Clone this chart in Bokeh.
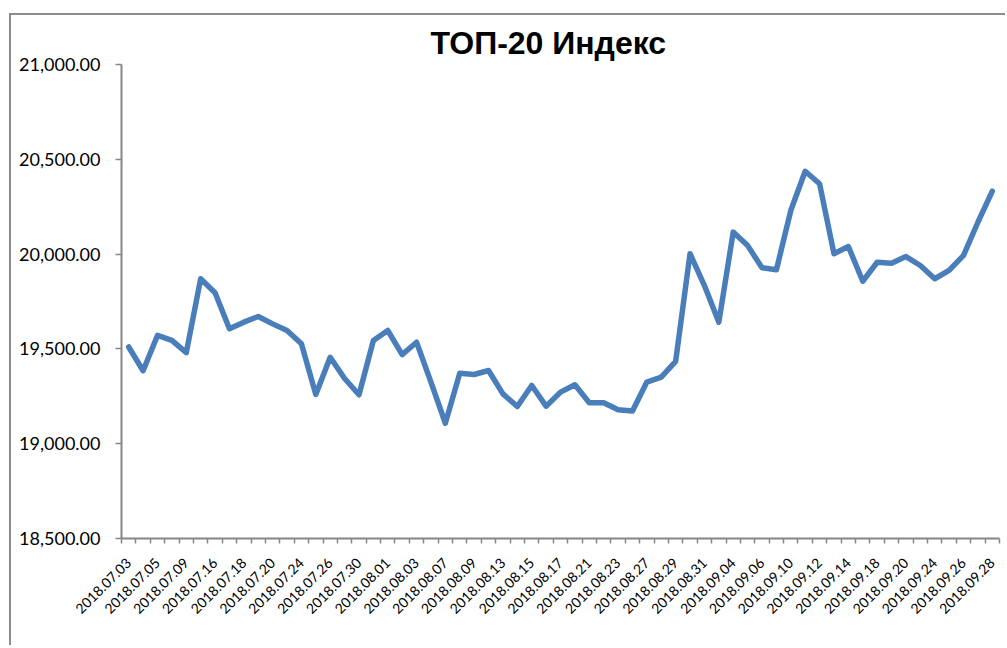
import math
from bokeh.plotting import figure
from bokeh.models import Range1d, FixedTicker, NumeralTickFormatter, ColumnDataSource
from bokeh.embed import file_html
from bokeh.resources import INLINE

title_text = "ТОП-20 Индекс"

dates = [
    "2018.07.03", "2018.07.04", "2018.07.05", "2018.07.06", "2018.07.09", "2018.07.10",
    "2018.07.16", "2018.07.17", "2018.07.18", "2018.07.19", "2018.07.20", "2018.07.23",
    "2018.07.24", "2018.07.25", "2018.07.26", "2018.07.27", "2018.07.30", "2018.07.31",
    "2018.08.01", "2018.08.02", "2018.08.03", "2018.08.06", "2018.08.07", "2018.08.08",
    "2018.08.09", "2018.08.10", "2018.08.13", "2018.08.14", "2018.08.15", "2018.08.16",
    "2018.08.17", "2018.08.20", "2018.08.21", "2018.08.22", "2018.08.23", "2018.08.24",
    "2018.08.27", "2018.08.28", "2018.08.29", "2018.08.30", "2018.08.31",
    "2018.09.03", "2018.09.04", "2018.09.05", "2018.09.06", "2018.09.07", "2018.09.10",
    "2018.09.11", "2018.09.12", "2018.09.13", "2018.09.14", "2018.09.17", "2018.09.18",
    "2018.09.19", "2018.09.20", "2018.09.21", "2018.09.24", "2018.09.25", "2018.09.26",
    "2018.09.27", "2018.09.28",
]

index_values = [
    19510, 19385, 19571, 19545, 19480, 19870, 19796, 19606, 19641, 19671,
    19632, 19597, 19527, 19260, 19456, 19344, 19258, 19544, 19597, 19470,
    19535, 19325, 19108, 19372, 19365, 19386, 19263, 19196, 19307, 19198,
    19272, 19311, 19216, 19216, 19179, 19172, 19325, 19351, 19434, 20002,
    19834, 19641, 20116, 20045, 19928, 19917, 20230, 20437, 20371, 20002,
    20040, 19857, 19957, 19952, 19987, 19940, 19870, 19914, 19993, 20168,
    20332,
]

y_ticks = [18500, 19000, 19500, 20000, 20500, 21000]

n = len(dates)
positions = list(range(n))
src = ColumnDataSource(dict(x=positions, y=index_values, d=dates))

p = figure(
    width=996, height=632,
    output_backend="svg", toolbar_location=None,
    x_range=Range1d(-0.5, n - 0.5),
    y_range=Range1d(y_ticks[0], y_ticks[-1]),
    min_border_left=110, min_border_right=8,
    min_border_top=49, min_border_bottom=109,
    margin=(13, 0, 0, 9),
)
p.styles = {"border-left": "2px solid #8c8c8c", "border-top": "2px solid #8c8c8c"}

p.line("x", "y", source=src, line_color="#4A7EBB", line_width=5.5,
       line_join="round", line_cap="round")

# Title
p.title.text = title_text
p.title.text_font = "Liberation Sans"
p.title.text_font_size = "32px"
p.title.text_font_style = "bold"
p.title.text_color = "#000000"
p.title.align = "left"
p.title.offset = 309
p.title.standoff = 7

p.xgrid.visible = False
p.ygrid.visible = False
p.outline_line_color = None
p.background_fill_color = "white"
p.border_fill_color = "white"

# X axis
xa = p.xaxis[0]
xa.ticker = FixedTicker(ticks=positions[::2], minor_ticks=[i - 0.5 for i in range(n + 1)])
xa.major_label_overrides = {i: dates[i] for i in positions[::2]}
xa.major_label_orientation = math.pi / 4
xa.major_label_text_font = "Lato"
xa.major_label_text_font_size = "14px"
xa.major_label_text_color = "#000000"
xa.major_tick_line_color = None
xa.major_tick_out = 5
xa.major_tick_in = 0
xa.minor_tick_line_color = "#868686"
xa.minor_tick_line_width = 1.5
xa.minor_tick_out = 5
xa.minor_tick_in = 0
xa.axis_line_color = "#868686"
xa.axis_line_width = 2
xa.major_label_standoff = 17

# Y axis
ya = p.yaxis[0]
ya.ticker = FixedTicker(ticks=y_ticks, minor_ticks=[])
ya.formatter = NumeralTickFormatter(format="0,0.00")
ya.major_label_text_font = "Lato"
ya.major_label_text_font_size = "18px"
ya.major_label_text_color = "#000000"
ya.major_tick_line_color = "#868686"
ya.major_tick_line_width = 1.5
ya.major_tick_out = 6
ya.major_tick_in = 0
ya.minor_tick_line_color = None
ya.axis_line_color = "#868686"
ya.axis_line_width = 2
ya.major_label_standoff = 15

open("out.html", "w").write(file_html(p, INLINE))
